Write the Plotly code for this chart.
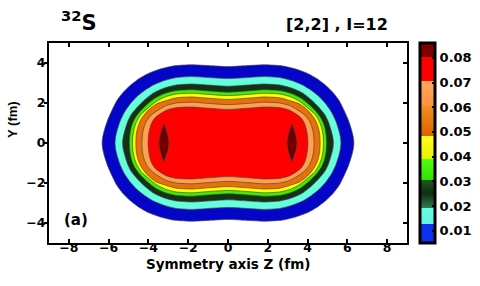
import plotly.graph_objects as go

# ---------------- data ----------------
# Iso-density contours, upper-right quadrant (z >= 0, y >= 0), in fm.
# Each contour is mirrored about both axes (the shape is symmetric).
blue_z = [0, 0.8, 1.8, 2.7, 3.4, 4.0, 4.5, 4.95, 5.3, 5.6, 5.85, 6.05, 6.2, 6.3, 6.33]
blue_y = [3.82, 3.86, 3.91, 3.86, 3.70, 3.48, 3.20, 2.85, 2.50, 2.10, 1.60, 1.15, 0.70, 0.30, 0]

cyan_z = [0, 0.8, 1.8, 2.6, 3.2, 3.75, 4.2, 4.6, 4.92, 5.2, 5.42, 5.57, 5.65, 5.68]
cyan_y = [3.22, 3.26, 3.32, 3.27, 3.12, 2.90, 2.62, 2.30, 1.95, 1.55, 1.10, 0.65, 0.30, 0]

dkgreen_z = [0, 1.0, 1.8, 2.6, 3.2, 3.75, 4.2, 4.6, 4.88, 5.05, 5.18, 5.27, 5.30]
dkgreen_y = [2.84, 2.90, 2.95, 2.90, 2.75, 2.50, 2.15, 1.75, 1.40, 1.05, 0.65, 0.30, 0]

green_z = [0, 1.0, 1.8, 2.6, 3.2, 3.7, 4.1, 4.45, 4.7, 4.85, 4.93, 4.96]
green_y = [2.54, 2.60, 2.66, 2.62, 2.47, 2.22, 1.90, 1.55, 1.20, 0.85, 0.45, 0]

yellow_z = [0, 1.0, 1.8, 2.6, 3.15, 3.6, 3.98, 4.35, 4.58, 4.71, 4.78, 4.80]
yellow_y = [2.37, 2.43, 2.49, 2.45, 2.31, 2.08, 1.78, 1.45, 1.10, 0.75, 0.40, 0]

orange_z = [0, 1.0, 1.8, 2.6, 3.1, 3.6, 4.0, 4.28, 4.47, 4.57, 4.62, 4.63]
orange_y = [2.18, 2.24, 2.30, 2.26, 2.12, 1.95, 1.65, 1.32, 0.98, 0.65, 0.33, 0]

ltorange_z = [0, 1.0, 1.8, 2.6, 3.1, 3.5, 3.85, 4.08, 4.22, 4.30, 4.33]
ltorange_y = [1.92, 1.98, 2.04, 2.00, 1.87, 1.65, 1.40, 1.12, 0.80, 0.45, 0]

red_z = [0, 1.0, 1.8, 2.6, 3.05, 3.4, 3.68, 3.85, 3.95, 4.00, 4.02]
red_y = [1.68, 1.74, 1.80, 1.77, 1.66, 1.47, 1.25, 0.98, 0.65, 0.33, 0]

# density maxima (dark red lenses) at z = +/-3.22 fm
peak_centers = [-3.22, 3.22]
peak_dz = [0, 0.12, 0.21, 0.25]
peak_dy = [0.95, 0.65, 0.32, 0]

band_colors = ["#0505C8", "#66FFDD", "#143214", "#3CF000", "#FFFF00",
               "#E8700A", "#FFA050", "#FF0000"]
peak_color = "#700000"

x_ticks = [-8, -6, -4, -2, 0, 2, 4, 6, 8]
y_ticks = [-4, -2, 0, 2, 4]
cbar_ticks = [0.01, 0.02, 0.03, 0.04, 0.05, 0.06, 0.07, 0.08]
cbar_min, cbar_max = 0.005, 0.086

# colour scale of the colour bar (value, colour)
cbar_stops = [
    (0.005, "#1030F0"), (0.0125, "#1030F0"),
    (0.0125, "#68F0E0"), (0.019, "#60FFE0"),
    (0.019, "#2F7F55"), (0.025, "#0F2F10"), (0.0305, "#235523"),
    (0.0305, "#30E000"), (0.039, "#50FF10"),
    (0.039, "#E8F000"), (0.0485, "#FFFF20"),
    (0.0485, "#E06000"), (0.0605, "#F09020"),
    (0.0605, "#FF9040"), (0.0705, "#FFA860"),
    (0.0705, "#FF0000"), (0.0805, "#FF0000"),
    (0.0805, "#800000"), (0.086, "#800000"),
]

# ---------------- build figure ----------------
def closed_shape(qz, qy):
    n = len(qz)
    zs, ys = [], []
    for i in range(n):                      # upper right
        zs.append(qz[i]); ys.append(qy[i])
    for i in range(n - 2, -1, -1):          # lower right
        zs.append(qz[i]); ys.append(-qy[i])
    for i in range(1, n):                   # lower left
        zs.append(-qz[i]); ys.append(-qy[i])
    for i in range(n - 2, -1, -1):          # upper left
        zs.append(-qz[i]); ys.append(qy[i])
    return zs, ys

contours = [(blue_z, blue_y), (cyan_z, cyan_y), (dkgreen_z, dkgreen_y),
            (green_z, green_y), (yellow_z, yellow_y), (orange_z, orange_y),
            (ltorange_z, ltorange_y), (red_z, red_y)]

fig = go.Figure()
for (qz, qy), col in zip(contours, band_colors):
    zs, ys = closed_shape(qz, qy)
    fig.add_trace(go.Scatter(
        x=zs, y=ys, mode="lines", fill="toself", fillcolor=col,
        line=dict(color="rgba(70,70,70,0.85)", width=0.8, shape="spline", smoothing=0.6),
        hoverinfo="skip", showlegend=False))

for c in peak_centers:
    pz, py = closed_shape(peak_dz, peak_dy)
    fig.add_trace(go.Scatter(
        x=[c + v for v in pz], y=py, mode="lines", fill="toself", fillcolor=peak_color,
        line=dict(color="rgba(70,70,70,0.85)", width=0.8),
        hoverinfo="skip", showlegend=False))

span = cbar_max - cbar_min
cscale = [[(v - cbar_min) / span, col] for v, col in cbar_stops]

FONT = "DejaVu Sans"
fig.add_trace(go.Scatter(
    x=[None], y=[None], mode="markers", showlegend=False, hoverinfo="skip",
    marker=dict(color=[cbar_min], cmin=cbar_min, cmax=cbar_max, colorscale=cscale,
                showscale=True,
                colorbar=dict(
                    x=(420 - 49) / 358, xanchor="left", xpad=0, ypad=0,
                    y=0.5, yanchor="middle", lenmode="pixels", len=200,
                    thickness=15, outlinewidth=3, outlinecolor="black",
                    tickvals=cbar_ticks, tickformat=".2f", ticks="inside",
                    ticklen=4, tickwidth=2, tickcolor="black",
                    tickfont=dict(family=FONT, size=13, color="black", weight="bold"),
                ))))

# invisible trace for right-hand y axis (inside ticks)
fig.add_trace(go.Scatter(x=[None], y=[None], yaxis="y2", showlegend=False, hoverinfo="skip"))

tickfont = dict(family=FONT, size=12.5, color="black", weight="bold")
fig.update_layout(
    template="none",
    width=480, height=286,
    margin=dict(l=49, r=73, t=43, b=43, autoexpand=False),
    paper_bgcolor="white", plot_bgcolor="white",
    hovermode=False,
    xaxis=dict(range=[-9, 9], tickvals=x_ticks, ticks="inside", ticklen=4, tickwidth=1.5,
               tickcolor="black", showline=True, linewidth=2, linecolor="black",
               mirror="ticks", showgrid=False, zeroline=False, tickfont=tickfont,
               automargin=False, ticklabelstandoff=-8),
    yaxis=dict(range=[-5, 5], tickvals=y_ticks, ticks="outside", ticklen=3, tickwidth=1.5,
               tickcolor="black", showline=True, linewidth=2, linecolor="black",
               mirror=True, showgrid=False, zeroline=False, tickfont=tickfont,
               automargin=False, ticklabelstandoff=-4),
    yaxis2=dict(range=[-5, 5], tickvals=y_ticks, overlaying="y", side="right",
                ticks="inside", ticklen=4, tickwidth=1.5, tickcolor="black",
                showticklabels=False, showline=False, showgrid=False, zeroline=False,
                automargin=False),
    annotations=[
        dict(text="<sup>32</sup>S", xref="paper", yref="paper",
             x=(59 - 49) / 358, y=(243 - 37) / 200, xanchor="left", yanchor="bottom",
             showarrow=False,
             font=dict(family=FONT, size=21, color="black", weight="bold")),
        dict(text="[2,2] , I=12", xref="paper", yref="paper",
             x=(337 - 49) / 358, y=(243 - 24) / 200, xanchor="center", yanchor="middle",
             showarrow=False, font=dict(family=FONT, size=16, color="black", weight="bold")),
        dict(text="(a)", xref="paper", yref="paper",
             x=(76 - 49) / 358, y=(243 - 220) / 200, xanchor="center", yanchor="middle",
             showarrow=False, font=dict(family=FONT, size=15, color="black", weight="bold")),
        dict(text="Y (fm)", xref="paper", yref="paper", textangle=-90,
             x=(12 - 49) / 358, y=(243 - 120) / 200, xanchor="center", yanchor="middle",
             showarrow=False, font=dict(family="Liberation Sans", size=13, color="black", weight="bold")),
        dict(text="Symmetry axis Z (fm)", xref="paper", yref="paper",
             x=0.5, y=(243 - 263.5) / 200, xanchor="center", yanchor="middle",
             showarrow=False, font=dict(family=FONT, size=13.5, color="black", weight="bold")),
    ],
)

fig.write_html("out.html", config={"displayModeBar": False},
               post_script="document.body.style.margin='0';")
